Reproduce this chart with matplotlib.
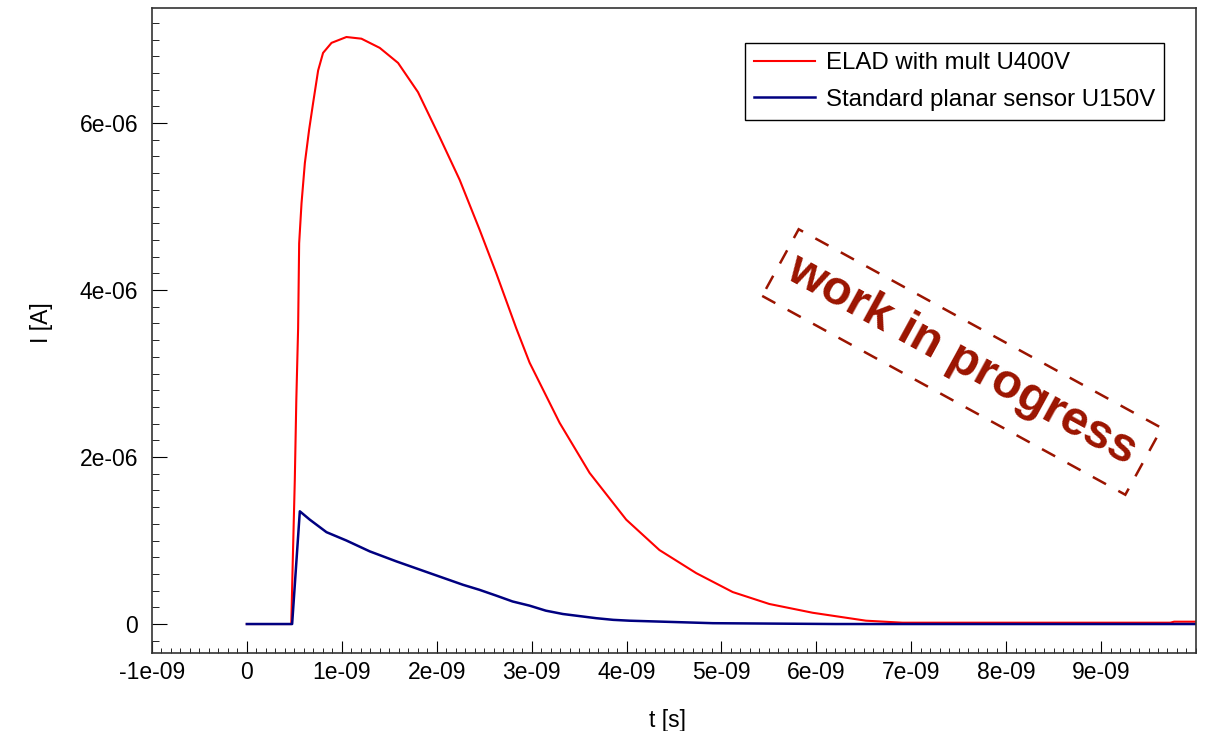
import matplotlib
matplotlib.use("Agg")
import matplotlib.pyplot as plt
from matplotlib.ticker import MultipleLocator, FixedLocator, FormatStrFormatter
from matplotlib.patches import Rectangle
from matplotlib.transforms import IdentityTransform

plt.rcParams['font.family'] = ['Liberation Sans', 'DejaVu Sans']

# time in ns, current in uA
t_elad = [0, 0.468, 0.484, 0.505, 0.521, 0.54, 0.551, 0.576, 0.611, 0.656, 0.698,
          0.751, 0.803, 0.892, 1.049, 1.207, 1.40, 1.593, 1.803, 2.032, 2.242,
          2.453, 2.628, 2.839, 2.979, 3.295, 3.611, 3.997, 4.347, 4.734, 5.119,
          5.505, 5.961, 6.523, 6.908, 9.73, 9.77, 10.0]
i_elad = [0, 0, 0.77, 1.72, 2.68, 3.54, 4.56, 5.04, 5.52, 5.92, 6.24,
          6.63, 6.84, 6.96, 7.03, 7.01, 6.90, 6.72, 6.37, 5.83, 5.32,
          4.72, 4.20, 3.54, 3.13, 2.41, 1.81, 1.25, 0.886, 0.61, 0.383,
          0.24, 0.135, 0.04, 0.016, 0.016, 0.028, 0.028]

t_std = [0, 0.477, 0.558, 0.663, 0.839, 1.049, 1.295, 1.576, 1.926, 2.277,
         2.45, 2.628, 2.80, 2.979, 3.15, 3.33, 3.68, 3.86, 4.03, 4.91, 6.2, 10.0]
i_std = [0, 0, 1.35, 1.25, 1.10, 1.0, 0.87, 0.75, 0.61, 0.47,
         0.41, 0.34, 0.27, 0.22, 0.16, 0.12, 0.07, 0.05, 0.04, 0.01, 0.0, 0.0]

x_ticks = [-1e-9, 0, 1e-9, 2e-9, 3e-9, 4e-9, 5e-9, 6e-9, 7e-9, 8e-9, 9e-9]
y_ticks = [0, 2e-6, 4e-6, 6e-6]

label_elad = "ELAD with mult U400V"
label_std = "Standard planar sensor U150V"

fig = plt.figure(figsize=(12.05, 7.31), dpi=100)
ax = fig.add_axes([0.1261, 0.1067, 0.8664, 0.8823])

ax.plot([t * 1e-9 for t in t_elad], [i * 1e-6 for i in i_elad],
        color='#ff0000', lw=1.5, label=label_elad)
ax.plot([t * 1e-9 for t in t_std], [i * 1e-6 for i in i_std],
        color='#000080', lw=1.8, label=label_std)

ax.set_xlim(-1e-9, 1e-8)
ax.set_ylim(-0.347e-6, 7.377e-6)

ax.xaxis.set_major_locator(FixedLocator(x_ticks))
ax.xaxis.set_minor_locator(MultipleLocator(1e-10))
ax.yaxis.set_major_locator(FixedLocator(y_ticks))
ax.yaxis.set_minor_locator(MultipleLocator(2e-7))
ax.xaxis.set_major_formatter(FormatStrFormatter('%g'))
ax.yaxis.set_major_formatter(FormatStrFormatter('%g'))

ax.tick_params(which='both', direction='in', top=False, right=False,
               labelsize=16.5, color='black')
ax.tick_params(axis='x', which='major', length=8.6, pad=6)
ax.tick_params(axis='x', which='minor', length=3.6)
ax.tick_params(axis='y', which='major', length=11, pad=10)
ax.tick_params(axis='y', which='minor', length=5)

for s in ax.spines.values():
    s.set_color('#333333')
    s.set_linewidth(1.2)

ax.set_xlabel("t [s]", fontsize=16.5)
ax.set_ylabel("I [A]", fontsize=16.5)
ax.xaxis.set_label_coords(0.494, -0.087)
ax.yaxis.set_label_coords(-0.095, 0.513)

leg = ax.legend(loc='upper right', bbox_to_anchor=(0.9693, 0.9457), borderaxespad=0,
                fontsize=17.3, frameon=True, fancybox=False, edgecolor='black',
                framealpha=1, handlelength=2.55, handletextpad=0.42,
                labelspacing=0.6, borderpad=0.38)
leg.get_frame().set_linewidth(1.0)

# "work in progress" stamp
stamp = '#9b1400'
fig.text(962 / 1205, 1 - 360 / 731, "work in progress", rotation=-28.7,
         ha='center', va='center', rotation_mode='anchor',
         fontsize=35, fontweight='bold', color=stamp)
box = Rectangle((962 - 207, 731 - 362 - 38), 414, 76, angle=-28.7,
                rotation_point='center', transform=IdentityTransform(),
                fill=False, ec=stamp, lw=1.8, ls=(0, (6, 5.6)))
fig.add_artist(box)

fig.savefig("out.png", dpi=100)
